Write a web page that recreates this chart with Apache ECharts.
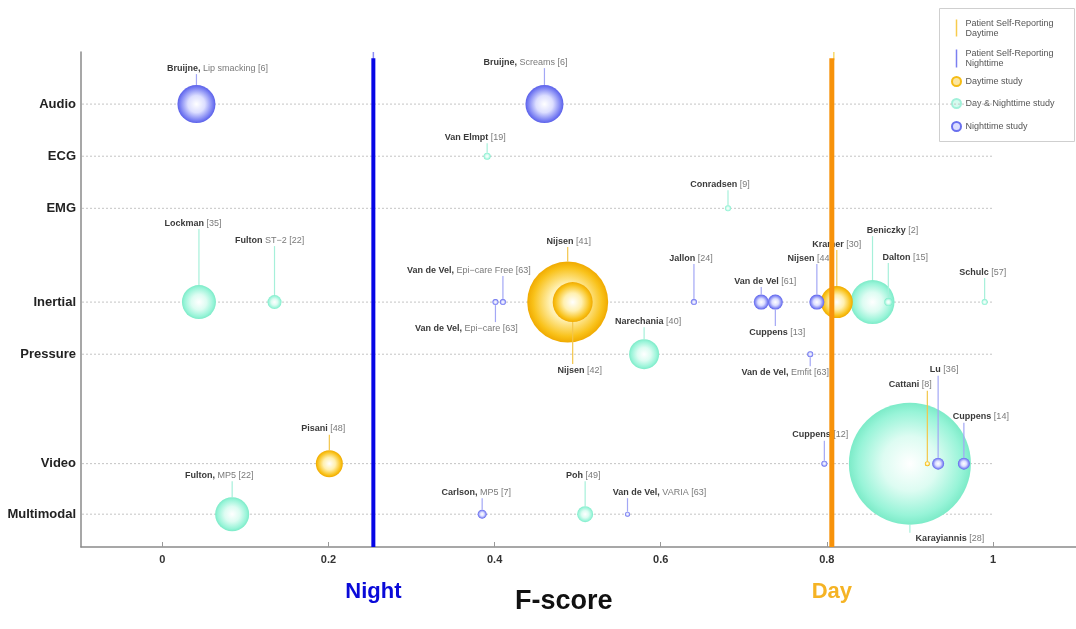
<!DOCTYPE html>
<html><head><meta charset="utf-8">
<script src="https://cdn.jsdelivr.net/npm/echarts@6/dist/echarts.min.js"></script>
<style>html,body{margin:0;padding:0;background:#fff}#c{width:1076px;height:629px}</style>
</head><body><div id="c"></div>
<script>
// ---------- data ----------
const categories = ['Audio', 'ECG', 'EMG', 'Inertial', 'Pressure', 'Video', 'Multimodal'];
const rowPos = [1, 2, 3, 4.8, 5.8, 7.9, 8.87];
const xTicks = [0, 0.2, 0.4, 0.6, 0.8, 1];

const authors = ['Bruijne,', 'Bruijne,', 'Van Elmpt', 'Conradsen', 'Lockman', 'Fulton', 'Van de Vel,', 'Van de Vel,',
  'Nijsen', 'Nijsen', 'Jallon', 'Van de Vel', 'Cuppens', 'Nijsen', 'Kramer', 'Beniczky', 'Dalton', 'Schulc',
  'Narechania', 'Van de Vel,', 'Pisani', 'Cuppens', 'Karayiannis', 'Cattani', 'Lu', 'Cuppens',
  'Fulton,', 'Carlson,', 'Poh', 'Van de Vel,'];
const details = ['Lip smacking', 'Screams', '', '', '', 'ST\u22122', 'Epi\u2212care Free', 'Epi\u2212care',
  '', '', '', '', '', '', '', '', '', '',
  '', 'Emfit', '', '', '', '', '', '',
  'MP5', 'MP5', '', 'VARIA'];
const refs = [6, 6, 19, 9, 35, 22, 63, 63, 41, 42, 24, 61, 13, 44, 30, 2, 15, 57, 40, 63, 48, 12, 28, 8, 36, 14, 22, 7, 49, 63];
const fscores = [0.041, 0.460, 0.391, 0.681, 0.044, 0.135, 0.410, 0.401, 0.488, 0.494, 0.640, 0.721, 0.738, 0.788,
  0.812, 0.855, 0.874, 0.990, 0.580, 0.780, 0.201, 0.797, 0.900, 0.921, 0.934, 0.965, 0.084, 0.385, 0.509, 0.560];
const modality = [0, 0, 1, 2, 3, 3, 3, 3, 3, 3, 3, 3, 3, 3, 3, 3, 3, 3, 4, 4, 5, 5, 5, 5, 5, 5, 6, 6, 6, 6];
const studyType = ['night', 'night', 'both', 'both', 'both', 'both', 'night', 'night', 'day', 'day', 'night', 'night',
  'night', 'night', 'day', 'both', 'both', 'both', 'both', 'night', 'day', 'night', 'both', 'day', 'night', 'night',
  'both', 'night', 'both', 'night'];
const bubbleSize = [38, 38, 7, 6, 34, 14, 6, 6, 81, 40, 6, 15, 15, 15, 32, 44, 8, 6, 30, 6, 27, 6, 122, 5, 12, 12, 34, 9, 16, 5];
const nightThreshold = 0.254;
const dayThreshold = 0.806;
const legendLabels = ['Patient Self-Reporting\nDaytime', 'Patient Self-Reporting\nNighttime', 'Daytime study', 'Day & Nighttime study', 'Nighttime study'];

// ---------- layout (label placement, px) ----------
const labelDx = [21, -19, -12, -8, -6, -5, -34, -29, 1, 7, -3, 4, 2, -7, 0, 20, 17, -2, 4, -25, -6, -4, 40, -17, 6, 17, -13, -6, -2, 32];
const labelDy = [-36, -42, -19, -24, -79, -62, -32, 26, -61, 68, -44, -21, 30, -44, -58, -72, -45, -30, -33, 18, -35, -29, 75, -79, -94, -47, -39, -22, -39, -22];

// ---------- styles ----------
const FONT = '"Liberation Sans", Arial, sans-serif';
const palette = {
  day:   { light: '#FFF0B0', mid: '#F9C21A', edge: '#F0AA00', stem: '#F3C64A' },
  both:  { light: '#DDFCF2', mid: '#98F4D8', edge: '#7CEBC8', stem: '#A6F0DA' },
  night: { light: '#DCDEFF', mid: '#7C82F3', edge: '#5A60EA', stem: '#A3A7F5' }
};
function grad(t) {
  const p = palette[t];
  return new echarts.graphic.RadialGradient(0.5, 0.5, 0.5, [
    { offset: 0, color: '#ffffff' },
    { offset: 0.45, color: p.light },
    { offset: 0.85, color: p.mid },
    { offset: 1, color: p.edge }
  ]);
}
function bubbleSeries(t) {
  const idx = fscores.map((_, i) => i).filter(i => studyType[i] === t)
    .sort((a, b) => bubbleSize[b] - bubbleSize[a]);
  return {
    type: 'scatter', z: 3, silent: true, animation: false,
    data: idx.map(i => ({ value: [fscores[i], rowPos[modality[i]]], symbolSize: bubbleSize[i] })),
    itemStyle: { color: grad(t), opacity: 1 }
  };
}

const chart = echarts.init(document.getElementById('c'), null, { renderer: 'canvas' });
const option = {
  animation: false,
  backgroundColor: '#ffffff',
  grid: { left: 81, right: 0, top: 52, bottom: 82, containLabel: false },
  xAxis: {
    type: 'value', min: -0.098, max: 1.1,
    axisLine: { show: true, onZero: false, lineStyle: { color: '#8a8a8a', width: 1.5 } },
    axisTick: { show: true, inside: true, length: 5, customValues: xTicks, lineStyle: { color: '#999' } },
    axisLabel: { customValues: xTicks, formatter: v => String(+v.toFixed(1)), fontFamily: FONT, fontSize: 11, fontWeight: 'bold', color: '#333', margin: 7 },
    splitLine: { show: false }
  },
  yAxis: {
    type: 'value', inverse: true, min: 0, max: 9.5,
    axisLine: { show: true, onZero: false, lineStyle: { color: '#8a8a8a', width: 1.5 } },
    axisTick: { show: false },
    axisLabel: {
      customValues: rowPos,
      formatter: v => { const k = rowPos.findIndex(r => Math.abs(r - v) < 1e-6); return k >= 0 ? categories[k] : ''; },
      fontFamily: FONT, fontSize: 13, fontWeight: 'bold', color: '#222', margin: 5
    },
    splitLine: { show: false }
  },
  series: [
    { // dotted row gridlines
      type: 'custom', z: 1, silent: true, clip: false,
      data: rowPos.map(r => [r]),
      encode: { x: -1, y: 0 },
      renderItem(params, api) {
        const y = rowPos[params.dataIndex];
        const a = api.coord([-0.098, y]), b = api.coord([1, y]);
        return { type: 'line', shape: { x1: a[0] + 1, y1: a[1], x2: b[0], y2: b[1] },
          style: { stroke: '#c4c4c4', lineWidth: 1, lineDash: [2, 2] } };
      }
    },
    bubbleSeries('both'),
    bubbleSeries('day'),
    bubbleSeries('night'),
    { // stems + labels
      type: 'custom', z: 4, silent: true, clip: false,
      data: fscores.map((v, i) => [v, rowPos[modality[i]]]),
      encode: { x: 0, y: 1 },
      renderItem(params, api) {
        const i = params.dataIndex;
        const p = api.coord([fscores[i], rowPos[modality[i]]]);
        const r = bubbleSize[i] / 2;
        const up = labelDy[i] < 0;
        const lx = p[0] + labelDx[i], ly = p[1] + labelDy[i];
        const y1 = up ? p[1] - r : p[1] + r;
        const y2 = up ? ly + 6 : ly - 6;
        const rest = (details[i] ? details[i] + ' ' : '') + '[' + refs[i] + ']';
        return { type: 'group', children: [
          { type: 'line', shape: { x1: p[0], y1: y1, x2: p[0], y2: y2 },
            style: { stroke: palette[studyType[i]].stem, lineWidth: 1.2 } },
          { type: 'text', style: {
              x: lx, y: ly, align: 'center', verticalAlign: 'middle',
              text: '{b|' + authors[i] + '}{n| ' + rest + '}',
              rich: {
                b: { fontFamily: FONT, fontSize: 9, fontWeight: 'bold', fill: '#3a3a3a' },
                n: { fontFamily: FONT, fontSize: 9, fill: '#7a7a7a' }
              } } }
        ] };
      }
    },
    { // self-report thresholds
      type: 'custom', z: 6, silent: true, clip: false,
      data: [[nightThreshold], [dayThreshold]],
      encode: { x: 0, y: -1 },
      renderItem(params, api) {
        const isNight = params.dataIndex === 0;
        const v = isNight ? nightThreshold : dayThreshold;
        const top = api.coord([v, 0]), cap = api.coord([v, 0.12]), bot = api.coord([v, 9.5]);
        const thick = isNight ? '#0606E6' : '#F7920A';
        const thin = isNight ? '#8C8CF5' : '#F8D96A';
        const w = isNight ? 4 : 5;
        return { type: 'group', children: [
          { type: 'line', shape: { x1: top[0] + (isNight ? 0 : 2), y1: top[1], x2: top[0] + (isNight ? 0 : 2), y2: cap[1] + 2 },
            style: { stroke: thin, lineWidth: 1.5 } },
          { type: 'line', shape: { x1: cap[0], y1: cap[1], x2: bot[0], y2: bot[1] },
            style: { stroke: thick, lineWidth: w } },
          { type: 'text', style: { x: bot[0], y: bot[1] + 45, align: 'center', verticalAlign: 'middle',
              text: isNight ? 'Night' : 'Day', fontFamily: FONT, fontSize: 22, fontWeight: 'bold',
              fill: isNight ? '#0A0AD8' : '#F5B324' } }
        ] };
      }
    }
  ],
  graphic: [
    { type: 'text', left: 567 - 52, top: 588, z: 10,
      style: { text: 'F-score', fontFamily: FONT, fontSize: 27, fontWeight: 'bold', fill: '#111' } },
    { type: 'group', left: 939, top: 8, z: 20, children: [
      { type: 'rect', shape: { x: 0, y: 0, width: 135, height: 133 }, style: { fill: '#fff', stroke: '#cfcfcf', lineWidth: 1 } },
      { type: 'line', shape: { x1: 17, y1: 11, x2: 17, y2: 28 }, style: { stroke: '#F7CB4D', lineWidth: 1.5 } },
      { type: 'text', style: { x: 26, y: 20, text: legendLabels[0], fontFamily: FONT, fontSize: 9, fill: '#555', verticalAlign: 'middle', lineHeight: 10 } },
      { type: 'line', shape: { x1: 17, y1: 41, x2: 17, y2: 59 }, style: { stroke: '#7B7FF0', lineWidth: 1.5 } },
      { type: 'text', style: { x: 26, y: 50, text: legendLabels[1], fontFamily: FONT, fontSize: 9, fill: '#555', verticalAlign: 'middle', lineHeight: 10 } },
      { type: 'circle', shape: { cx: 17, cy: 73, r: 4.5 }, style: { fill: '#FCE6A0', stroke: '#F5BC16', lineWidth: 2 } },
      { type: 'text', style: { x: 26, y: 73, text: legendLabels[2], fontFamily: FONT, fontSize: 9, fill: '#555', verticalAlign: 'middle' } },
      { type: 'circle', shape: { cx: 17, cy: 95, r: 4.5 }, style: { fill: '#D6FBEF', stroke: '#A2F1DA', lineWidth: 2 } },
      { type: 'text', style: { x: 26, y: 95, text: legendLabels[3], fontFamily: FONT, fontSize: 9, fill: '#555', verticalAlign: 'middle' } },
      { type: 'circle', shape: { cx: 17, cy: 118, r: 4.5 }, style: { fill: '#DCDEFF', stroke: '#6A70EE', lineWidth: 2 } },
      { type: 'text', style: { x: 26, y: 118, text: legendLabels[4], fontFamily: FONT, fontSize: 9, fill: '#555', verticalAlign: 'middle' } }
    ] }
  ]
};
chart.setOption(option);
</script>
</body></html>
